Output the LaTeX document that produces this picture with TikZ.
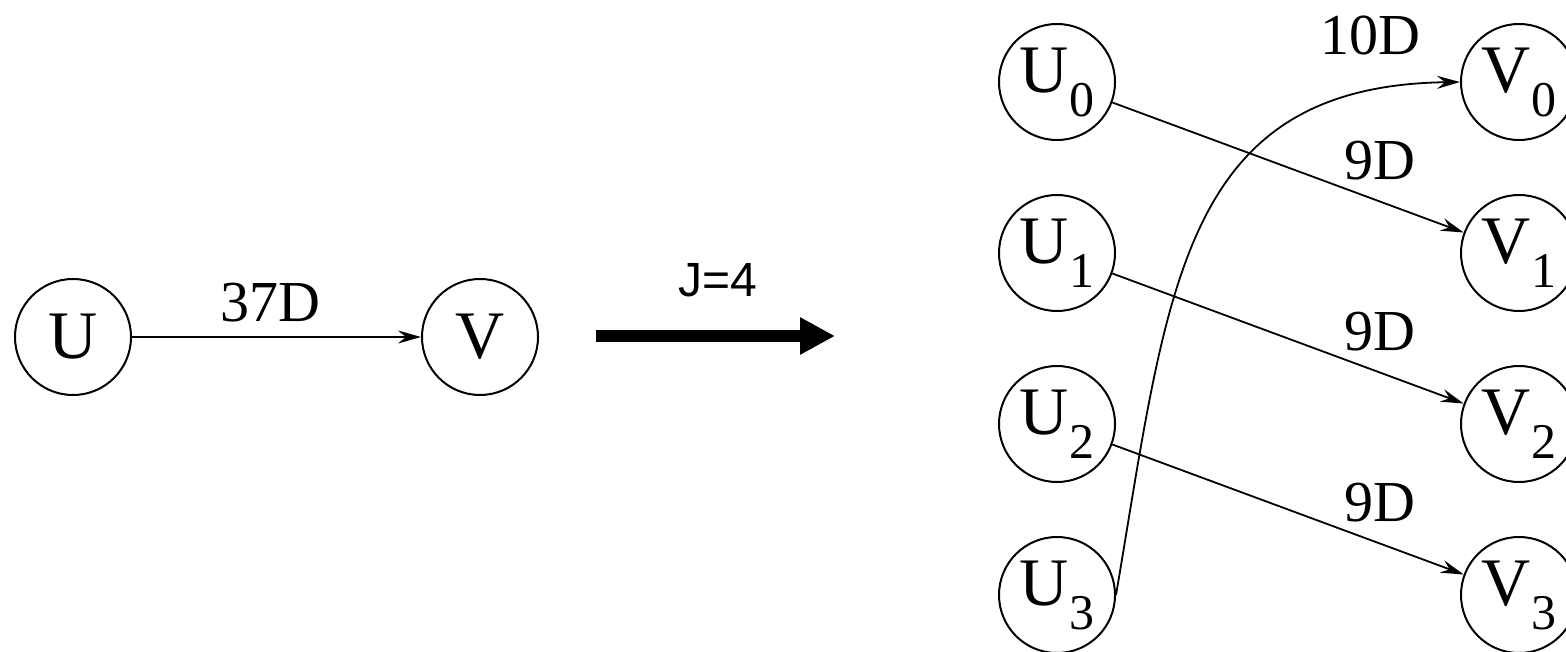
\documentclass[tikz,border=0pt]{standalone}
\usepackage{fontspec}
\setmainfont{Liberation Serif}
\newfontfamily\hvfont{Liberation Sans}
\usetikzlibrary{arrows.meta}
\newcommand{\sbs}[1]{\raisebox{-24pt}{\smash{\fontsize{50}{50}\selectfont #1}}}
\begin{document}
\begin{tikzpicture}[x=1pt,y=-1pt,
  nd/.style={draw,circle,line width=2pt,minimum size=116pt,inner sep=0pt,
    font=\fontsize{68}{68}\selectfont},
  lbl/.style={inner sep=0pt,font=\fontsize{58}{58}\selectfont},
  ar/.style={line width=1.8pt,-{Stealth[length=23pt,width=13pt,inset=8pt]}}]
\useasboundingbox (0,0) rectangle (1566,652);
% left graph
\node[nd] (U) at (73,337) {U};
\node[nd] (V) at (480,337) {V};
\draw[ar] (U) -- (V);
\node[lbl] (l37) at (270,303) {37D};
% big arrow
\coordinate (bs) at (596,336);
\coordinate (be) at (835,336);
\draw[line width=12pt,-{Triangle[length=35pt,width=35pt]}] (bs) -- (be);
\node[inner sep=0pt,font=\hvfont\fontsize{48}{48}\selectfont] (J) at (718,280) {J=4};
% right graph
\node[nd] (U0) at (1057,82) {U\sbs{0}};
\node[nd] (U1) at (1057,253) {U\sbs{1}};
\node[nd] (U2) at (1057,424) {U\sbs{2}};
\node[nd] (U3) at (1057,595) {U\sbs{3}};
\node[nd] (V0) at (1519,82) {V\sbs{0}};
\node[nd] (V1) at (1519,253) {V\sbs{1}};
\node[nd] (V2) at (1519,424) {V\sbs{2}};
\node[nd] (V3) at (1519,595) {V\sbs{3}};
\draw[ar] (U0) -- (V1);
\draw[ar] (U1) -- (V2);
\draw[ar] (U2) -- (V3);
\coordinate (c1) at (1168,290);
\coordinate (c2) at (1180,86);
\draw[ar] (U3.east) .. controls (c1) and (c2) .. (V0.west);
\node[lbl] (l10) at (1370,36) {10D};
\node[lbl] (l9a) at (1380,161) {9D};
\node[lbl] (l9b) at (1380,332) {9D};
\node[lbl] (l9c) at (1380,503) {9D};
\end{tikzpicture}
\end{document}
